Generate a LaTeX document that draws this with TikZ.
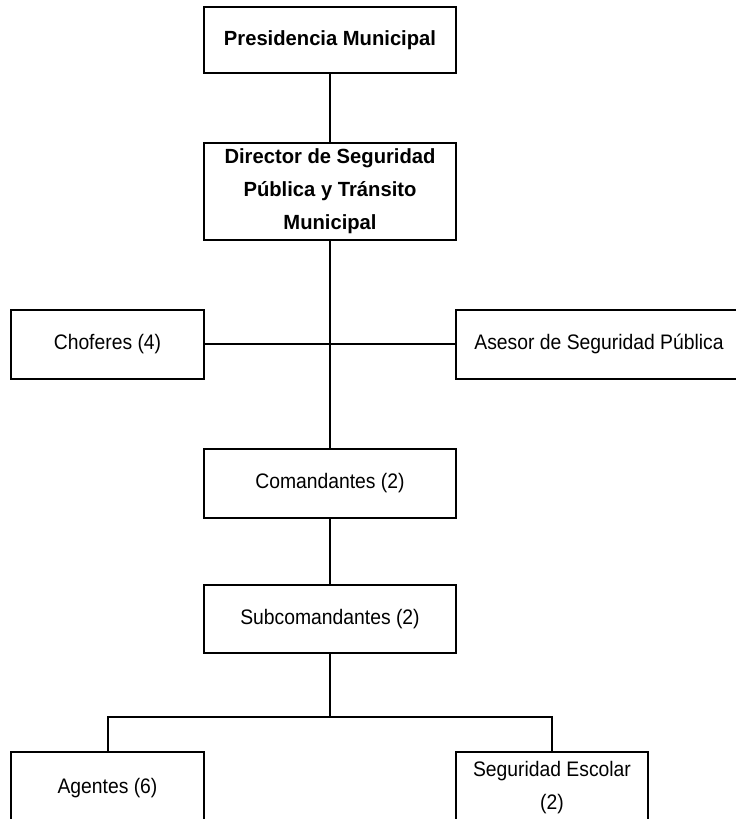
\documentclass[tikz,border=0pt]{standalone}
\usepackage{fontspec}
\newfontfamily\regf{Liberation Sans}[FakeStretch=0.92]
\newfontfamily\boldf{Liberation Sans}[FakeStretch=0.985]
\tikzset{
  box/.style={draw, line width=2pt, align=center, inner sep=0pt, fill=white,
    font=\regf\fontsize{21}{33}\selectfont},
  bbox/.style={box, font=\boldf\bfseries\fontsize{20.5}{33}\selectfont},
  conn/.style={line width=2pt}
}
\begin{document}
\begin{tikzpicture}[x=1pt,y=-1pt]
\useasboundingbox (0,0) rectangle (736,819);
\clip (0,0) rectangle (736,819);
\node[bbox, minimum width=252pt, minimum height=66pt] (pres) at (330,40) {Presidencia Municipal};
\node[bbox, minimum width=252pt, minimum height=97pt] (dir) at (330,191.5) {Director de Seguridad\\Pública y Tránsito\\Municipal};
\node[box, minimum width=193pt, minimum height=69pt] (chof) at (107.5,344) {Choferes (4)};
\node[box, minimum width=286pt, minimum height=69pt] (ases) at (599,344) {Asesor de Seguridad Pública};
\node[box, minimum width=252pt, minimum height=69pt] (com) at (330,483.5) {Comandantes (2)};
\node[box, minimum width=252pt, minimum height=68pt] (sub) at (330,619) {Subcomandantes (2)};
\node[box, minimum width=193pt, minimum height=72pt] (agen) at (107.5,788) {Agentes (6)};
\node[box, minimum width=192pt, minimum height=72pt] (seg) at (552,788) {Seguridad Escolar\\(2)};
\coordinate (bm) at (330,717);
\draw[conn] (pres) -- (dir);
\draw[conn] (dir) -- (com);
\draw[conn] (chof.east) -- (ases.west);
\draw[conn] (com) -- (sub);
\draw[conn] (sub.south) -- (bm);
\draw[conn] (agen.north) |- (bm) -| (seg.north);
\end{tikzpicture}
\end{document}
